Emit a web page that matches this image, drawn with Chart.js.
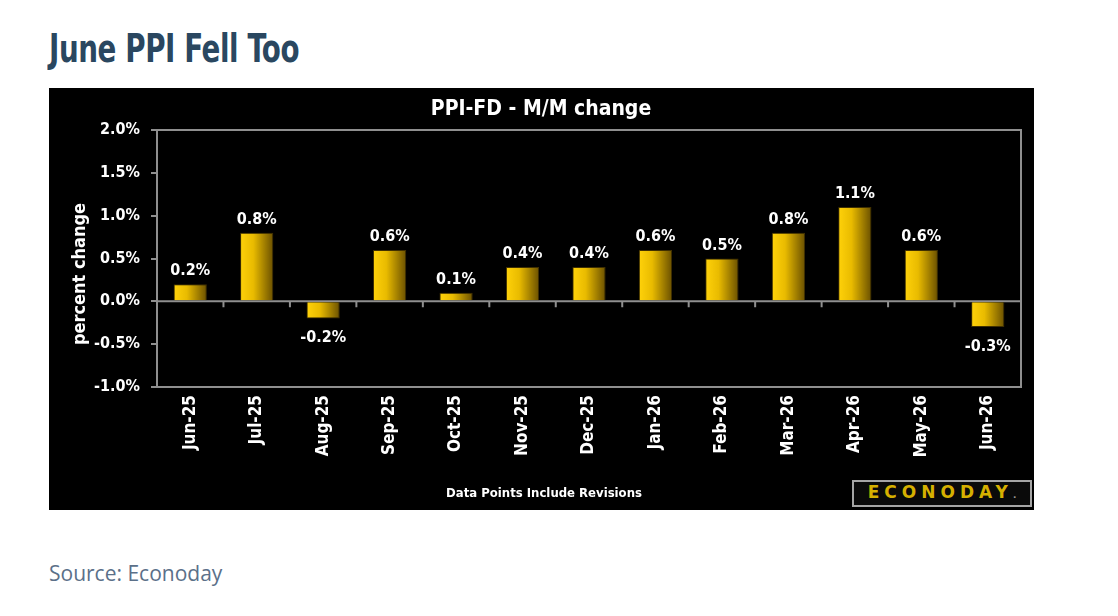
<!DOCTYPE html>
<html>
<head>
<meta charset="utf-8">
<script src="https://cdn.jsdelivr.net/npm/chart.js@4.4.1/dist/chart.umd.min.js"></script>
<style>
  body { margin: 0; background: #fff; width: 1118px; height: 616px; position: relative; overflow: hidden; }
  h1 { position: absolute; left: 49px; top: 26px; margin: 0; line-height: 1;
       font: bold 39px "Liberation Sans Narrow", "DejaVu Sans Condensed", sans-serif;
       color: #2a4760; letter-spacing: -0.5px; transform: scaleX(0.79); transform-origin: 0 0; white-space: nowrap; }
  #box { position: absolute; left: 49px; top: 88px; width: 985px; height: 422px; background: #000; }
  .cond { font-family: "DejaVu Sans Condensed", "DejaVu Sans", sans-serif; font-weight: bold; color: #fff; }
  #ctitle { position: absolute; left: 492px; top: 8px; transform: translateX(-50%); white-space: nowrap; font-size: 21px; }
  #ytitle { position: absolute; left: -70px; top: 176px; width: 200px; height: 20px; line-height: 20px;
            text-align: center; transform: rotate(-90deg); font-size: 18px; white-space: nowrap; }
  #foot { position: absolute; left: 495px; top: 397px; transform: translateX(-50%); white-space: nowrap; font-size: 13px; }
  #logo { position: absolute; left: 803px; top: 392px; width: 176px; height: 23px; border: 2px solid #a5a5a5;
          background: #0a0a0a; text-align: center; line-height: 23px;
          font: bold 17px "DejaVu Sans", sans-serif; color: #d6b000; letter-spacing: 5px; }
  #logo span { color: #9a9a9a; font-size: 9px; letter-spacing: 0; }
  #source { position: absolute; left: 49px; top: 559px; margin: 0; line-height: 1;
            font: 21px "Open Sans", sans-serif; color: #5b7089; }
  #wrap { position: absolute; left: 0; top: 0; width: 985px; height: 422px; }
</style>
</head>
<body>
<h1>June PPI Fell Too</h1>
<div id="box">
  <div id="wrap"><canvas id="ppiChart"></canvas></div>
  <div id="ctitle" class="cond">PPI-FD - M/M change</div>
  <div id="ytitle" class="cond">percent change</div>
  <div id="foot" class="cond">Data Points Include Revisions</div>
  <div id="logo">ECONODAY<span>.</span></div>
</div>
<p id="source">Source: Econoday</p>

<script>
var months = ["Jun-25", "Jul-25", "Aug-25", "Sep-25", "Oct-25", "Nov-25", "Dec-25",
              "Jan-26", "Feb-26", "Mar-26", "Apr-26", "May-26", "Jun-26"];
var ppiChange = [0.2, 0.8, -0.2, 0.6, 0.1, 0.4, 0.4, 0.6, 0.5, 0.8, 1.1, 0.6, -0.3];
var yMin = -1.0, yMax = 2.0, yStep = 0.5;

var FONT = '"DejaVu Sans Condensed", "DejaVu Sans", sans-serif';
var frameColor = "#8f8f8f";

function pct(v) { return v.toFixed(1) + "%"; }

// plot border, zero line and the little ticks hanging from it
var framePlugin = {
  id: "frame",
  beforeDatasetsDraw: function(chart) {
    var ctx = chart.ctx, a = chart.chartArea, x = chart.scales.x, y = chart.scales.y;
    var y0 = y.getPixelForValue(0);
    ctx.save();
    ctx.strokeStyle = frameColor;
    ctx.lineWidth = 2;
    ctx.strokeRect(a.left, a.top, a.right - a.left, a.bottom - a.top);
    ctx.beginPath();
    ctx.moveTo(a.left, y0);
    ctx.lineTo(a.right, y0);
    for (var i = 1; i < months.length; i++) {
      var bx = (x.getPixelForValue(i - 1) + x.getPixelForValue(i)) / 2;
      ctx.moveTo(bx, y0);
      ctx.lineTo(bx, y0 + 6);
    }
    ctx.stroke();
    ctx.restore();
  }
};

var valuePlugin = {
  id: "values",
  afterDatasetsDraw: function(chart) {
    var ctx = chart.ctx;
    var meta = chart.getDatasetMeta(0);
    ctx.save();
    ctx.fillStyle = "#fff";
    ctx.font = "bold 16px " + FONT;
    ctx.textAlign = "center";
    ctx.textBaseline = "alphabetic";
    meta.data.forEach(function(bar, i) {
      var v = ppiChange[i];
      if (v >= 0) ctx.fillText(pct(v), bar.x, bar.y - 9);
      else ctx.fillText(pct(v), bar.x, bar.y + 24);
    });
    ctx.restore();
  }
};

function barFill(c) {
  var chart = c.chart, a = chart.chartArea;
  if (!a || !chart.scales.x) return "#e0b400";
  var cx = chart.scales.x.getPixelForValue(c.dataIndex);
  var half = (a.right - a.left) / months.length * 0.25;
  var g = chart.ctx.createLinearGradient(cx - half, 0, cx + half, 0);
  g.addColorStop(0, "#ffd20a");
  g.addColorStop(0.4, "#e9bb00");
  g.addColorStop(1, "#6a5000");
  return g;
}

new Chart(document.getElementById("ppiChart"), {
  type: "bar",
  data: {
    labels: months,
    datasets: [{
      data: ppiChange,
      backgroundColor: barFill,
      borderColor: "rgba(70, 52, 0, 0.9)",
      borderWidth: 1,
      barPercentage: 0.5,
      categoryPercentage: 1.0
    }]
  },
  options: {
    responsive: true,
    maintainAspectRatio: false,
    animation: false,
    layout: { padding: { top: 42, right: 13, bottom: 0, left: 0 } },
    plugins: { legend: { display: false }, tooltip: { enabled: false } },
    scales: {
      x: {
        grid: { display: false, drawTicks: false },
        border: { display: false },
        ticks: {
          color: "#fff", maxRotation: 90, minRotation: 90, padding: 8, autoSkip: false,
          font: { family: FONT, weight: "bold", size: 17 }
        },
        afterFit: function(s) { s.height = 123; }
      },
      y: {
        min: yMin, max: yMax,
        border: { display: false },
        grid: { drawOnChartArea: false, drawTicks: true, tickLength: 6, color: frameColor, lineWidth: 2 },
        ticks: {
          stepSize: yStep, color: "#fff", padding: 11,
          font: { family: FONT, weight: "bold", size: 16 },
          callback: function(v) { return pct(v); }
        },
        afterFit: function(s) { s.width = 108; }
      }
    }
  },
  plugins: [framePlugin, valuePlugin]
});
</script>
</body>
</html>
